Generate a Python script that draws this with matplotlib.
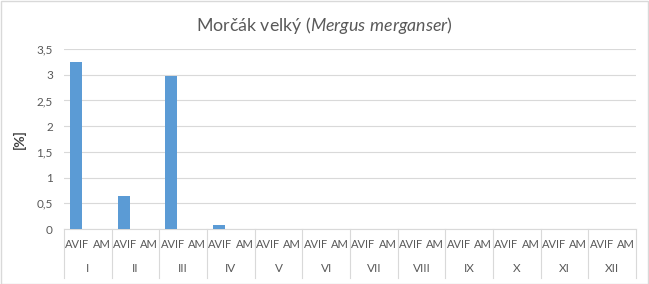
import matplotlib.pyplot as plt
import matplotlib.transforms as mtransforms
from matplotlib.patches import Rectangle

# data
months = ['I', 'II', 'III', 'IV', 'V', 'VI', 'VII', 'VIII', 'IX', 'X', 'XI', 'XII']
series = ['AVIF', 'AM']
avif = [3.25, 0.65, 2.98, 0.08, 0, 0, 0, 0, 0, 0, 0, 0]
am = [0, 0, 0, 0, 0, 0, 0, 0, 0, 0, 0, 0]
yticks = [0, 0.5, 1, 1.5, 2, 2.5, 3, 3.5]

plt.rcParams['font.family'] = ['Lato', 'DejaVu Sans']
plt.rcParams['mathtext.fontset'] = 'custom'
plt.rcParams['mathtext.it'] = 'Lato:italic'
plt.rcParams['mathtext.rm'] = 'Lato'

W, H = 649, 284
fig = plt.figure(figsize=(W / 100, H / 100), dpi=100, facecolor='white')
ax = fig.add_axes([64 / W, 1 - 229 / H, (636 - 64) / W, 180 / H])

txt = '#595959'
grid = '#d9d9d9'

# interleave the two series into 24 category slots
vals = []
for a, b in zip(avif, am):
    vals += [a, b]
pos = list(range(len(vals)))
ax.bar(pos, vals, width=0.5, color='#5b9bd5', zorder=3)

ax.set_xlim(-0.5, len(vals) - 0.5)
ax.set_ylim(0, 3.5)
ax.set_yticks(yticks)
ax.set_yticklabels([('%g' % v).replace('.', ',') for v in yticks])
ax.tick_params(axis='y', length=0, labelsize=8.5, labelcolor=txt, pad=8)
ax.set_xticks([])
ax.grid(axis='y', color=grid, linewidth=0.8, zorder=0)
for s in ['top', 'right', 'left']:
    ax.spines[s].set_visible(False)
ax.spines['bottom'].set_color(grid)
ax.spines['bottom'].set_linewidth(0.8)

ax.set_ylabel('[%]', fontsize=10, fontweight='bold', color='#404040', labelpad=8)

# two-level category axis
trans = mtransforms.blended_transform_factory(ax.transData, ax.transAxes)
px = 1 / 180
for i, m in enumerate(months):
    ax.text(2 * i + 0.06, -15 * px, series[0], transform=trans, ha='center', va='center',
            fontsize=8, color=txt)
    ax.text(2 * i + 1.08, -15 * px, series[1], transform=trans, ha='center', va='center',
            fontsize=8, color=txt)
    ax.text(2 * i + 0.5, -39 * px, m, transform=trans, ha='center', va='center',
            fontsize=8.5, color=txt)
for i in range(len(months) + 1):
    ax.plot([2 * i - 0.5, 2 * i - 0.5], [0, -49 * px], transform=trans,
            color=grid, linewidth=0.8, clip_on=False)

fig.text(0.5, 1 - 25 / H, r'Morčák velký ($\mathit{Mergus\ merganser}$)',
         ha='center', va='center', fontsize=12.8, color=txt)

fig.patches.append(Rectangle((0.5 / W, 0.5 / H), 1 - 1.5 / W, 1 - 1.5 / H,
                             transform=fig.transFigure, fill=False,
                             edgecolor=grid, linewidth=1))

fig.savefig('out.png', dpi=100)
